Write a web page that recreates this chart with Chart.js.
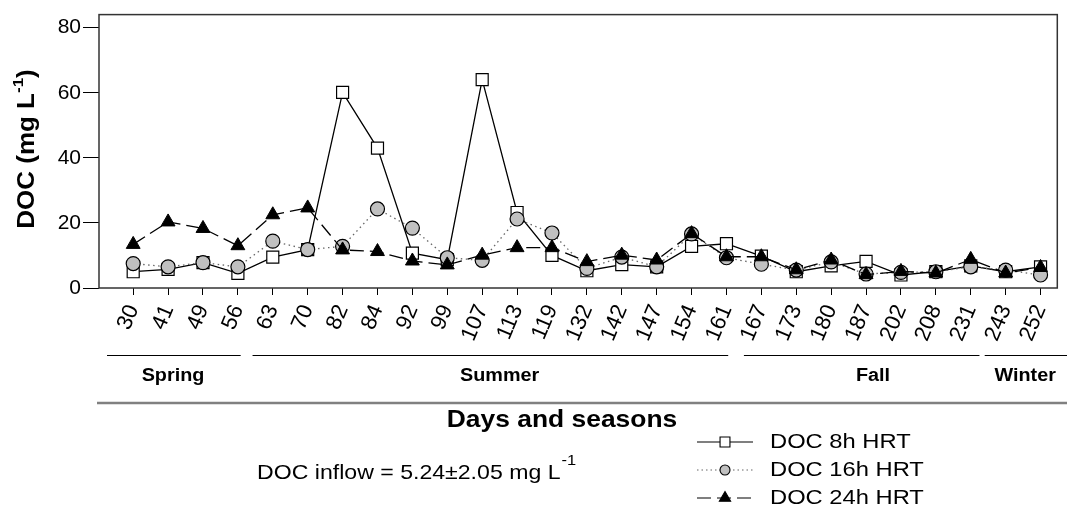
<!DOCTYPE html>
<html>
<head>
<meta charset="utf-8">
<script src="https://cdn.jsdelivr.net/npm/chart.js@4.4.1/dist/chart.umd.min.js"></script>
<style>
  html, body { margin: 0; padding: 0; background: #fff; }
  #wrap { width: 1067px; height: 527px; }
</style>
</head>
<body>
<div id="wrap"><canvas id="docChart" width="1067" height="527"></canvas></div>
<script>
'use strict';

// Sampling days (x categories)
const days = [30, 41, 49, 56, 63, 70, 82, 84, 92, 99, 107, 113, 119, 132, 142, 147, 154, 161, 167, 173, 180, 187, 202, 208, 231, 243, 252];

// DOC (mg L-1) per hydraulic retention time
const doc8h  = [5.0, 5.7, 7.8, 4.5, 9.5, 11.8, 60.1, 43.0, 10.7, 8.7, 64.0, 23.2, 10.0, 5.3, 7.2, 6.5, 12.8, 13.6, 9.8, 5.0, 6.8, 8.2, 4.0, 5.0, 6.8, 5.0, 6.5];
const doc16h = [7.5, 6.5, 7.8, 6.5, 14.4, 11.8, 12.8, 24.3, 18.4, 9.3, 8.5, 21.2, 16.9, 6.0, 9.5, 6.5, 16.6, 9.3, 7.3, 5.5, 8.0, 4.3, 4.8, 5.0, 6.5, 5.5, 4.0];
const doc24h = [13.4, 20.3, 18.3, 13.0, 22.5, 24.6, 11.7, 11.2, 8.3, 7.1, 10.1, 12.4, 12.4, 8.1, 10.1, 8.6, 16.7, 9.6, 9.6, 5.6, 8.6, 4.1, 5.1, 4.6, 8.8, 4.6, 6.3];

const yTicks = [0, 20, 40, 60, 80];
const seasons = ['Spring', 'Summer', 'Fall', 'Winter'];
const seriesNames = ['DOC 8h HRT', 'DOC 16h HRT', 'DOC 24h HRT'];
const inflowNote = 'DOC inflow = 5.24\u00b12.05 mg L';

const FONT = '"Liberation Sans", Arial, Helvetica, sans-serif';

function toPoints(values) {
    return values.map((v, i) => ({ x: i, y: v }));
}

function measure(ctx, text, font) {
    ctx.save();
    ctx.font = font;
    const w = ctx.measureText(text).width;
    ctx.restore();
    return w;
}

// text drawn a little wider than the font, like the original figure
function wideText(ctx, text, x, y, font, sx, align) {
    ctx.save();
    ctx.font = font;
    ctx.textAlign = align || 'left';
    ctx.textBaseline = 'middle';
    ctx.translate(x, y);
    ctx.scale(sx, 1);
    ctx.fillText(text, 0, 0);
    ctx.restore();
}

function marker(ctx, style, x, y, r) {
    ctx.beginPath();
    if (style === 'rect') {
        const s = r * Math.SQRT1_2;
        ctx.rect(x - s, y - s, 2 * s, 2 * s);
        ctx.fillStyle = '#fff';
    } else if (style === 'circle') {
        ctx.arc(x, y, r, 0, Math.PI * 2);
        ctx.fillStyle = '#c0c0c0';
    } else {
        for (let k = 0; k < 3; k++) {
            const a = k * Math.PI * 2 / 3;
            const px = x + Math.sin(a) * r, py = y - Math.cos(a) * r;
            k ? ctx.lineTo(px, py) : ctx.moveTo(px, py);
        }
        ctx.closePath();
        ctx.fillStyle = '#000';
    }
    ctx.fill();
    ctx.strokeStyle = '#000';
    ctx.lineWidth = 1.1;
    ctx.setLineDash([]);
    ctx.stroke();
}

const decorPlugin = {
    id: 'decor',
    afterDraw(chart) {
        const { ctx, chartArea: a } = chart;
        const x = chart.scales.x;
        ctx.save();

        // plot frame
        ctx.strokeStyle = '#333';
        ctx.lineWidth = 1.5;
        ctx.strokeRect(a.left, a.top, a.right - a.left, a.bottom - a.top);

        // season rules + names (spans in day-index units)
        const spans = [[-0.75, 3.08], [3.42, 17.05], [17.5, 24.25], [24.4, 27.5]];
        const centres = [1.14, 10.5, 21.2, 25.56];
        ctx.fillStyle = '#000';
        seasons.forEach((name, i) => {
            ctx.strokeStyle = '#000';
            ctx.lineWidth = 1;
            ctx.beginPath();
            ctx.moveTo(x.getPixelForValue(spans[i][0]), 355.5);
            ctx.lineTo(Math.min(x.getPixelForValue(spans[i][1]), chart.width), 355.5);
            ctx.stroke();
            wideText(ctx, name, x.getPixelForValue(centres[i]), 376, 'bold 18px ' + FONT, 1.1, 'center');
        });

        // long grey rule
        ctx.strokeStyle = '#808080';
        ctx.lineWidth = 2.5;
        ctx.beginPath();
        ctx.moveTo(97, 403);
        ctx.lineTo(chart.width, 403);
        ctx.stroke();

        // x axis title
        ctx.fillStyle = '#000';
        wideText(ctx, 'Days and seasons', 562, 420, 'bold 24px ' + FONT, 1.1, 'center');

        // y axis title with superscript
        ctx.save();
        ctx.translate(28, 149);
        ctx.rotate(-Math.PI / 2);
        const yf = 'bold 23px ' + FONT, ys = 'bold 15px ' + FONT, sx = 1.13;
        const w1 = measure(ctx, 'DOC (mg L', yf) * sx;
        const w2 = measure(ctx, '-1', ys) * sx;
        const w3 = measure(ctx, ')', yf) * sx;
        let px = -(w1 + w2 + w3) / 2;
        wideText(ctx, 'DOC (mg L', px, 0, yf, sx);
        px += w1;
        wideText(ctx, '-1', px, -9, ys, sx);
        px += w2;
        wideText(ctx, ')', px, 0, yf, sx);
        ctx.restore();

        // inflow note
        const nf = '21px ' + FONT, nfs = '15px ' + FONT;
        const nw = measure(ctx, inflowNote, nf) * 1.1;
        wideText(ctx, inflowNote, 257, 473, nf, 1.1);
        wideText(ctx, '-1', 257 + nw + 1, 461, nfs, 1.1);

        // legend
        const rows = [442, 470, 498];
        const styles = ['rect', 'circle', 'triangle'];
        const dashes = [[], [1.5, 3], [14, 6]];
        const colors = ['#000', '#666', '#000'];
        const radii = [7, 5, 6.5];
        rows.forEach((ry, i) => {
            ctx.strokeStyle = colors[i];
            ctx.lineWidth = 1.1;
            ctx.setLineDash(dashes[i]);
            ctx.beginPath();
            ctx.moveTo(697, ry);
            ctx.lineTo(753, ry);
            ctx.stroke();
            ctx.setLineDash([]);
            marker(ctx, styles[i], 725, ry, radii[i]);
            ctx.fillStyle = '#000';
            wideText(ctx, seriesNames[i], 770, ry, '21px ' + FONT, 1.13);
        });

        ctx.restore();
    }
};

const ctx = document.getElementById('docChart').getContext('2d');
new Chart(ctx, {
    type: 'line',
    data: {
        datasets: [{
            label: seriesNames[0],
            data: toPoints(doc8h),
            borderColor: '#000',
            borderWidth: 1.3,
            pointStyle: 'rect',
            pointRadius: 8.5,
            pointBackgroundColor: '#fff',
            pointBorderColor: '#000',
            pointBorderWidth: 1.2,
            order: 3
        }, {
            label: seriesNames[1],
            data: toPoints(doc16h),
            borderColor: '#666',
            borderWidth: 1.3,
            borderDash: [1.5, 3.5],
            pointStyle: 'circle',
            pointRadius: 7,
            pointBackgroundColor: '#c0c0c0',
            pointBorderColor: '#000',
            pointBorderWidth: 1.2,
            order: 2
        }, {
            label: seriesNames[2],
            data: toPoints(doc24h),
            borderColor: '#000',
            borderWidth: 1.3,
            borderDash: [14, 6],
            pointStyle: 'triangle',
            pointRadius: 8,
            pointBackgroundColor: '#000',
            pointBorderColor: '#000',
            pointBorderWidth: 1,
            order: 1
        }]
    },
    options: {
        responsive: false,
        animation: false,
        layout: { padding: { left: 0, top: 12, right: 7, bottom: 0 } },
        plugins: {
            legend: { display: false },
            tooltip: { enabled: false }
        },
        elements: { line: { tension: 0, fill: false } },
        scales: {
            x: {
                type: 'linear',
                min: -0.98,
                max: 26.48,
                afterBuildTicks: (s) => { s.ticks = days.map((d, i) => ({ value: i })); },
                afterFit: (s) => {
                    s.height = 239;
                    // keep the rotated labels from pushing the plot edges in
                    s.paddingLeft = 0;
                    s.paddingRight = 0;
                },
                ticks: {
                    autoSkip: false,
                    minRotation: 67,
                    maxRotation: 67,
                    padding: 6,
                    color: '#000',
                    font: { family: FONT, size: 22 },
                    callback: (v) => days[v]
                },
                grid: { display: true, drawOnChartArea: false, drawTicks: true, tickLength: 7, tickColor: '#000' },
                border: { display: false }
            },
            y: {
                min: 0,
                max: 84,
                afterBuildTicks: (s) => { s.ticks = yTicks.map((v) => ({ value: v })); },
                afterFit: (s) => { s.width = 99; },
                ticks: {
                    padding: 2,
                    color: '#000',
                    font: { family: FONT, size: 21 }
                },
                grid: { display: true, drawOnChartArea: false, drawTicks: true, tickLength: 16, tickColor: '#000' },
                border: { display: false }
            }
        }
    },
    plugins: [decorPlugin]
});
</script>
</body>
</html>
